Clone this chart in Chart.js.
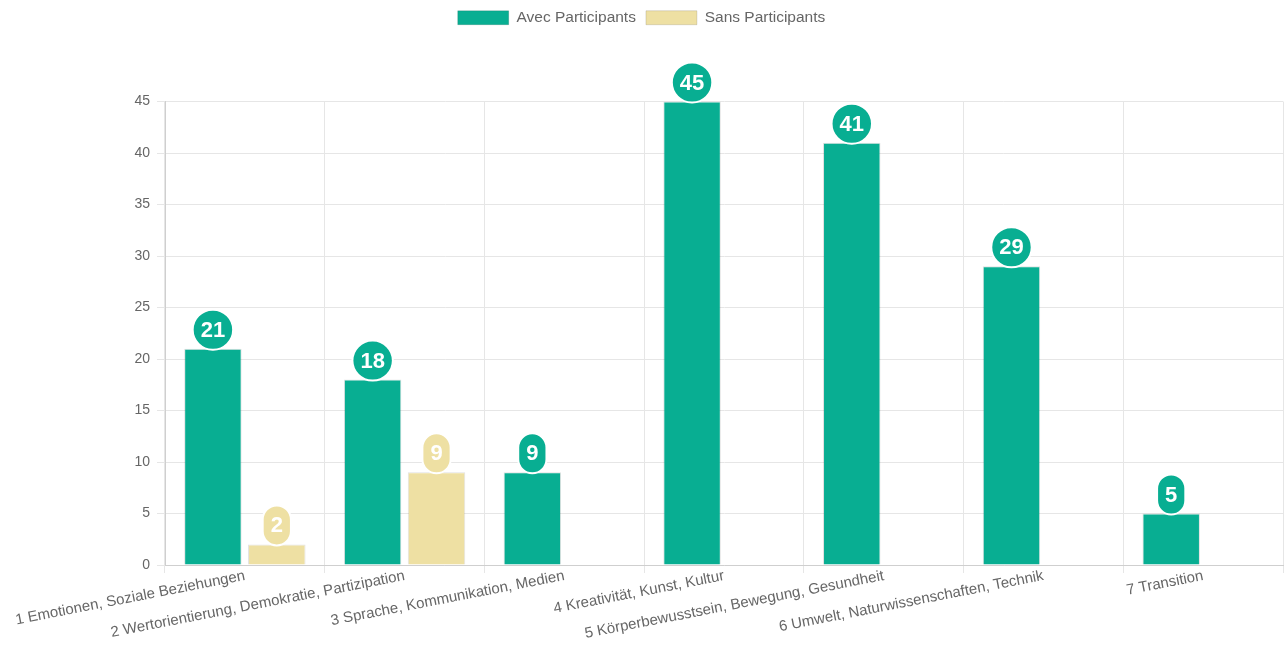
<!DOCTYPE html>
<html>
<head>
<meta charset="utf-8">
<script src="https://cdn.jsdelivr.net/npm/chart.js@4.4.1/dist/chart.umd.min.js"></script>
<style>
  html, body { margin: 0; padding: 0; background: #fff; }
  #wrap { width: 1286px; height: 653px; position: relative; }
</style>
</head>
<body>
<div id="wrap"><canvas id="chartDomaines"></canvas></div>
<script>
// Donnees
const categories = [
  '1 Emotionen, Soziale Beziehungen',
  '2 Wertorientierung, Demokratie, Partizipation',
  '3 Sprache, Kommunikation, Medien',
  '4 Kreativität, Kunst, Kultur',
  '5 Körperbewusstsein, Bewegung, Gesundheit',
  '6 Umwelt, Naturwissenschaften, Technik',
  '7 Transition'
];
const avecParticipants = [21, 18, 9, 45, 41, 29, 5];
const sansParticipants = [2, 9, null, null, null, null, null];
const yTicks = [0, 5, 10, 15, 20, 25, 30, 35, 40, 45];

const vert = '#08ae92';
const jaune = '#eee0a3';
const police = '"Liberation Sans", Arial, sans-serif';

// etiquettes rondes au-dessus des barres (a la maniere de datalabels)
const bulles = {
  id: 'bulles',
  afterDatasetsDraw(chart) {
    const ctx = chart.ctx;
    ctx.save();
    ctx.font = 'bold 22px ' + police;
    ctx.textAlign = 'center';
    ctx.textBaseline = 'middle';
    chart.data.datasets.forEach((ds, i) => {
      const meta = chart.getDatasetMeta(i);
      meta.data.forEach((bar, j) => {
        const v = ds.data[j];
        if (v === null || v === undefined) return;
        const txt = String(v);
        const w = ctx.measureText(txt).width + 16;
        const h = 40;
        const cx = bar.x;
        const cy = bar.y - 19;
        const r = Math.min(w, h) / 2;
        ctx.beginPath();
        ctx.roundRect(cx - w / 2, cy - h / 2, w, h, r);
        ctx.fillStyle = ds.backgroundColor;
        ctx.fill();
        ctx.lineWidth = 2;
        ctx.strokeStyle = '#ffffff';
        ctx.stroke();
        ctx.fillStyle = '#ffffff';
        ctx.fillText(txt, cx, cy + 1);
      });
    });
    ctx.restore();
  }
};

// espace sous la legende
const espaceLegende = {
  id: 'espaceLegende',
  beforeInit(chart) {
    const fit = chart.legend.fit;
    chart.legend.fit = function () {
      fit.bind(chart.legend)();
      this.height += 66;
    };
  }
};

const ctxDom = document.getElementById('chartDomaines').getContext('2d');
const chartDomaines = new Chart(ctxDom, {
  type: 'bar',
  data: {
    labels: categories,
    datasets: [
      {
        label: 'Avec Participants',
        data: avecParticipants,
        backgroundColor: vert,
        borderColor: 'rgba(0,0,0,0.12)',
        borderWidth: 1
      },
      {
        label: 'Sans Participants',
        data: sansParticipants,
        backgroundColor: jaune,
        borderColor: 'rgba(0,0,0,0.12)',
        borderWidth: 1
      }
    ]
  },
  options: {
    responsive: true,
    maintainAspectRatio: false,
    animation: false,
    layout: { padding: { right: 3, left: 0, bottom: 0 } },
    scales: {
      x: {
        grid: { color: '#e6e6e6', offset: true },
        border: { color: '#cfcfcf' },
        ticks: {
          color: '#666',
          font: { family: police, size: 15 },
          minRotation: 11,
          maxRotation: 11,
          autoSkip: false,
          padding: -6
        },
        afterFit(axis) { axis.height = 88; }
      },
      y: {
        min: 0,
        max: 45,
        afterBuildTicks(axis) {
          axis.ticks = yTicks.map(v => ({ value: v }));
        },
        afterFit(axis) { axis.width = 165; },
        grid: { color: '#e6e6e6' },
        border: { color: '#cfcfcf' },
        ticks: {
          color: '#666',
          font: { family: police, size: 14 },
          padding: 7
        }
      }
    },
    plugins: {
      legend: {
        labels: {
          boxWidth: 51,
          boxHeight: 14,
          color: '#666',
          font: { family: police, size: 15.5 }
        }
      },
      tooltip: { enabled: false }
    }
  },
  plugins: [bulles, espaceLegende]
});
</script>
</body>
</html>
